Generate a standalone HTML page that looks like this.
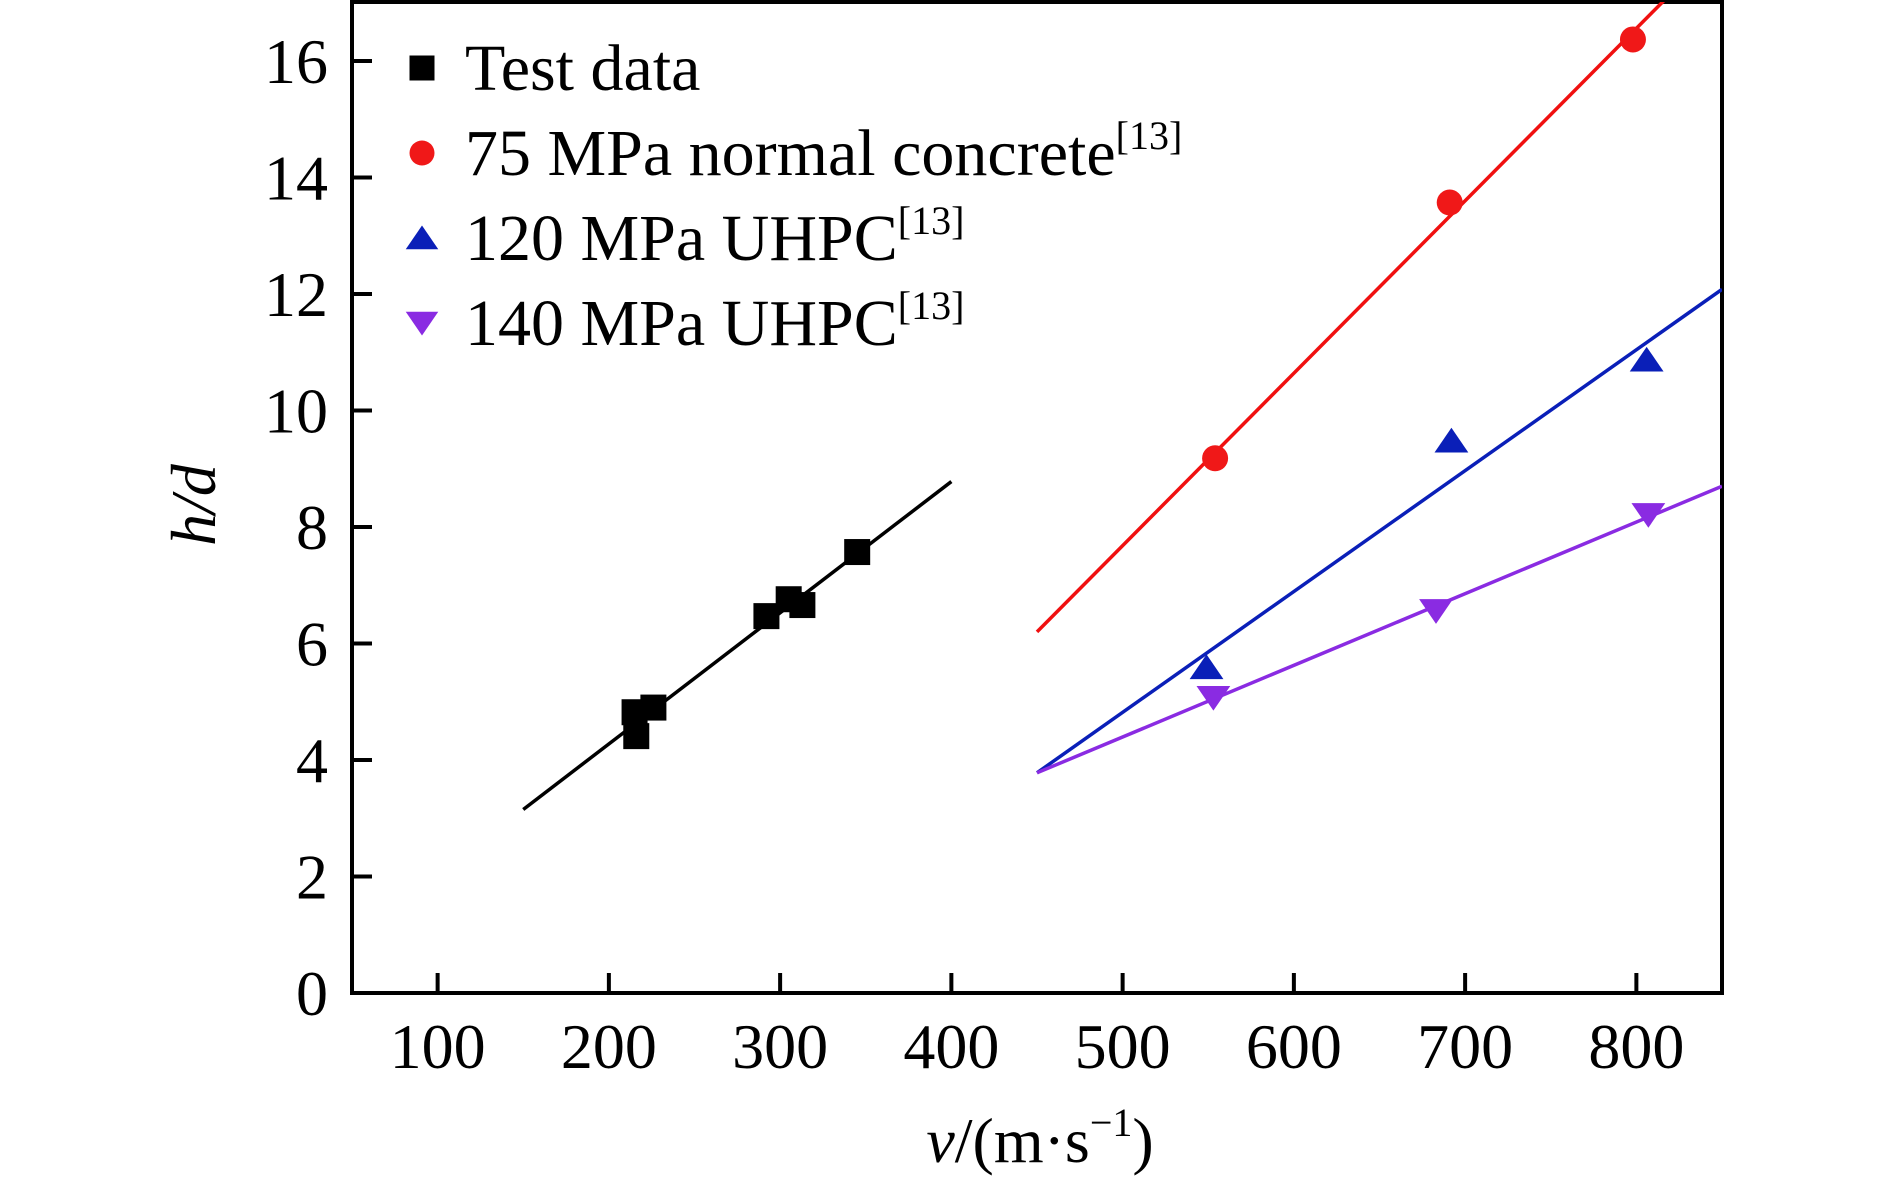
<!DOCTYPE html>
<html><head><meta charset="utf-8"><style>
html,body{margin:0;padding:0;background:#fff;}
svg{display:block;font-family:"Liberation Serif",serif;}
</style></head><body>
<svg id="chart" width="1890" height="1182" viewBox="0 0 1890 1182" xmlns="http://www.w3.org/2000/svg">
<defs><clipPath id="plotclip"><rect x="352" y="2" width="1370" height="991"/></clipPath></defs>
<g id="axes"></g>
<g id="marks" clip-path="url(#plotclip)"></g>
<g id="legend"></g>
<text transform="translate(215,505) rotate(-90)" text-anchor="middle" font-size="64" font-style="italic">h/d</text>
<text x="1040" y="1162" text-anchor="middle" font-size="64"><tspan font-style="italic">v</tspan>/(m·s<tspan font-size="40" dy="-26">−1</tspan><tspan dy="26">)</tspan></text>
</svg>
<script>
const xTicks = [100,200,300,400,500,600,700,800];
const yTicks = [0,2,4,6,8,10,12,14,16];
const testX = [216,215,226,292,305,313,345];
const testY = [4.41,4.82,4.90,6.47,6.76,6.66,7.57];
const nc75X = [554,691,798];
const nc75Y = [9.18,13.57,16.37];
const u120X = [549,692,806];
const u120Y = [5.59,9.48,10.87];
const u140X = [553,683,807];
const u140Y = [5.07,6.56,8.21];
const testFitX = [150,400];
const testFitY = [3.15,8.78];
const nc75FitX = [450,850];
const nc75FitY = [6.2,18.04];
const u120FitX = [450,850];
const u120FitY = [3.78,12.08];
const u140FitX = [450,850];
const u140FitY = [3.78,8.7];
const legendLabels = ["Test data","75 MPa normal concrete","120 MPa UHPC","140 MPa UHPC"];
const legendRefs = ["","[13]","[13]","[13]"];

const NS="http://www.w3.org/2000/svg";
const X0=352,X1=1722,Y0=993,YT=2;
function sx(v){return X0+(v-50)*(X1-X0)/800;}
function sy(v){return Y0-v*58.25;}
function mk(tag,attrs,parent){const e=document.createElementNS(NS,tag);for(const k in attrs)e.setAttribute(k,attrs[k]);parent.appendChild(e);return e;}
const axes=document.getElementById('axes'),marks=document.getElementById('marks'),legend=document.getElementById('legend');

const frame=mk('rect',{x:X0,y:YT,width:X1-X0,height:Y0-YT,fill:'none',stroke:'#000','stroke-width':4},axes);


xTicks.forEach(t=>{
  const l=mk('line',{x1:sx(t),x2:sx(t),y1:Y0,y2:Y0-20,stroke:'#000','stroke-width':4},axes);
  
  
  const tx=mk('text',{x:sx(t),y:1068,'text-anchor':'middle','font-size':64},axes);
  tx.textContent=t;
  
  
});
yTicks.forEach(t=>{
  const l=mk('line',{x1:X0,x2:X0+20,y1:sy(t),y2:sy(t),stroke:'#000','stroke-width':4},axes);
  
  
  const tx=mk('text',{x:328,y:sy(t)+22,'text-anchor':'end','font-size':64},axes);
  tx.textContent=t;
  
  
});

function fit(xs,ys,color,name){
  const l=mk('line',{x1:sx(xs[0]),y1:sy(ys[0]),x2:sx(xs[1]),y2:sy(ys[1]),stroke:color,'stroke-width':3.5},marks);
  
  
}
fit(testFitX,testFitY,'#000','test-fit-line');
fit(nc75FitX,nc75FitY,'#f01010','nc75-fit-line');
fit(u120FitX,u120FitY,'#0a1fb8','uhpc120-fit-line');
fit(u140FitX,u140FitY,'#8a2be2','uhpc140-fit-line');

function marker(type,cx,cy,parent,s){
  let e;
  if(type==='sq') e=mk('rect',{x:cx-s/2,y:cy-s/2,width:s,height:s,fill:'#000'},parent);
  else if(type==='ci') e=mk('circle',{cx:cx,cy:cy,r:s/2,fill:'#f01818'},parent);
  else if(type==='up') e=mk('polygon',{points:`${cx-s*0.65},${cy+s*0.45} ${cx+s*0.65},${cy+s*0.45} ${cx},${cy-s*0.5}`,fill:'#0a1fb8'},parent);
  else e=mk('polygon',{points:`${cx-s*0.65},${cy-s*0.45} ${cx+s*0.65},${cy-s*0.45} ${cx},${cy+s*0.5}`,fill:'#8a2be2'},parent);
  return e;
}
function series(xs,ys,type,name){
  xs.forEach((x,i)=>{
    const e=marker(type,sx(x),sy(ys[i]),marks,26);
    
    
  });
}
series(testX,testY,'sq','test-data-point');
series(nc75X,nc75Y,'ci','nc75-point');
series(u120X,u120Y,'up','uhpc120-point');
series(u140X,u140Y,'dn','uhpc140-point');

const types=['sq','ci','up','dn'];
legendLabels.forEach((lab,i)=>{
  const cy=68+i*85;
  const m=marker(types[i],422,cy,legend,25);
  
  
  const t=mk('text',{x:465,y:cy+22,'font-size':66},legend);
  t.textContent=lab;
  if(legendRefs[i]){const s=mk('tspan',{'font-size':40,dy:-26},t);s.textContent=legendRefs[i];}
  
  
});
</script>
</body></html>
